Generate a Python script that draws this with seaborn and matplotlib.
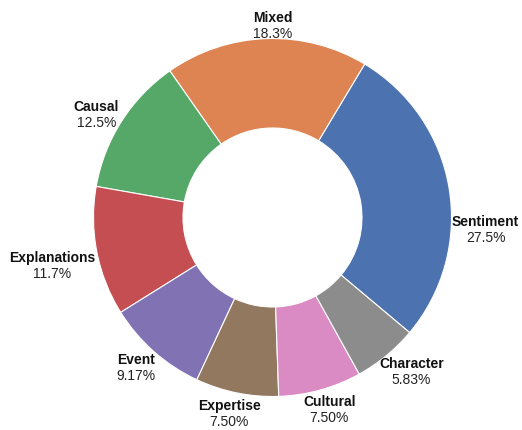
import numpy as np
import matplotlib.pyplot as plt
import seaborn as sns

# Verteilung der Kategorien (n = 120)
categories = ['Sentiment', 'Mixed', 'Causal', 'Explanations', 'Event',
              'Expertise', 'Cultural', 'Character']
counts = [33, 22, 15, 14, 11, 9, 9, 7]
pct_labels = ['27.5%', '18.3%', '12.5%', '11.7%', '9.17%', '7.50%', '7.50%', '5.83%']

sns.set_style('white')
plt.rcParams['font.family'] = ['Liberation Sans', 'DejaVu Sans']

colors = sns.color_palette('deep', len(categories))

W, H = 522, 430
fig = plt.figure(figsize=(W / 100, H / 100), dpi=100)
R_px = 179
cx, cy = 272.5, H - 217.5
ax = fig.add_axes([(cx - R_px) / W, (cy - R_px) / H, 2 * R_px / W, 2 * R_px / H])

wedges, _ = ax.pie(counts, colors=colors, startangle=-40, counterclock=True,
                   wedgeprops=dict(width=0.5, edgecolor='white', linewidth=0.8))
ax.set_xlim(-1, 1)
ax.set_ylim(-1, 1)
ax.set_aspect('equal')

# Beschriftungen ausserhalb des Rings, Block an Winkelrichtung ausgerichtet
fig.canvas.draw()
renderer = fig.canvas.get_renderer()
# (Winkel-, Radius-Korrektur) einzelner Beschriftungen
label_shift = {'Sentiment': (-13, -0.035), 'Mixed': (-2, 0), 'Explanations': (3, -0.01)}
for w, name, pct in zip(wedges, categories, pct_labels):
    d_ang, d_r = label_shift.get(name, (0, 0))
    ang = (w.theta1 + w.theta2) / 2 + d_ang
    c, s = np.cos(np.radians(ang)), np.sin(np.radians(ang))
    r = 1.04 + d_r
    anchor = (r * c, r * s)
    t1 = ax.annotate(name, anchor, xytext=(0, 0), textcoords='offset pixels',
                     ha='center', va='baseline', fontsize=10, fontweight='bold',
                     color='#111111', annotation_clip=False)
    t2 = ax.annotate(pct, anchor, xytext=(0, 0), textcoords='offset pixels',
                     ha='center', va='baseline', fontsize=10,
                     color='#222222', annotation_clip=False)
    bw = max(t1.get_window_extent(renderer).width, t2.get_window_extent(renderer).width)
    bh = 26
    ox = c * bw / 2
    oy = s * bh / 2 * (0.5 if s > 0 else 1.0)
    t1.xyann = (ox, oy + 3)
    t2.xyann = (ox, oy - 13)

fig.savefig('out.png', dpi=100)
